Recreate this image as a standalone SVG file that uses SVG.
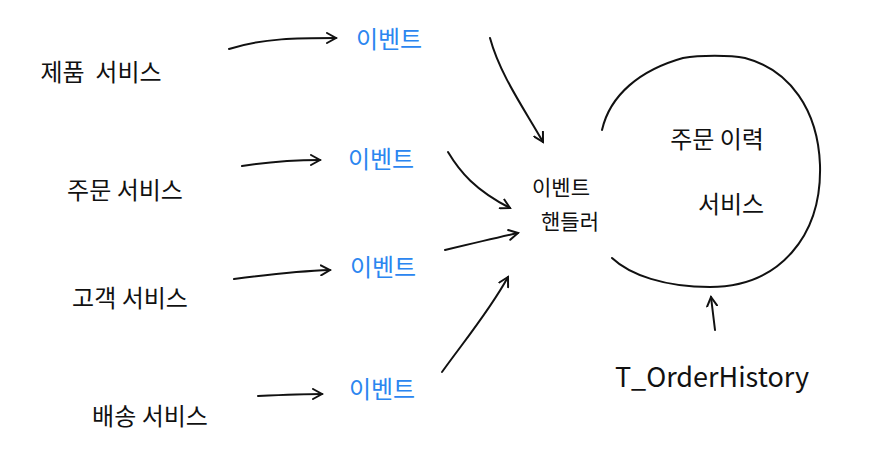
<svg xmlns="http://www.w3.org/2000/svg" width="881" height="467" viewBox="0 0 881 467">
<defs>
<style>
text{font-family:"Noto Sans CJK KR","Noto Sans",sans-serif;font-size:24px;fill:#111;text-anchor:middle;dominant-baseline:central}
.ev{fill:#2b86f0}
.sm{font-size:21px}
.c{fill:none;stroke:#111;stroke-width:2;stroke-linecap:round}
</style>
<marker id="ah" viewBox="0 0 12 12" refX="10" refY="6" markerWidth="12" markerHeight="12" markerUnits="userSpaceOnUse" orient="auto">
<path d="M1,1 L10,6 L1,11" fill="none" stroke="#111" stroke-width="2" stroke-linecap="round"/>
</marker>
</defs>
<rect width="881" height="467" fill="#fff"/>
<g id="connectors">
<path class="c" d="M229,49 C262,38 300,38 336,38" marker-end="url(#ah)"/>
<path class="c" d="M242,166 C268,162 295,160 320,160" marker-end="url(#ah)"/>
<path class="c" d="M234,279 C265,275 300,271 330,270" marker-end="url(#ah)"/>
<path class="c" d="M258,396 C280,395 302,394 322,394" marker-end="url(#ah)"/>
<path class="c" d="M490,38 C500,75 525,110 543,142" marker-end="url(#ah)"/>
<path class="c" d="M448,152 C460,172 475,190 510,208" marker-end="url(#ah)"/>
<path class="c" d="M445,250 C470,244 495,238 518,233" marker-end="url(#ah)"/>
<path class="c" d="M442,372 C465,340 490,310 508,277" marker-end="url(#ah)"/>
<path class="c" d="M715,330 L711,297" marker-end="url(#ah)"/>
</g>
<g id="n-product"><text x="101" y="70" xml:space="preserve">제품  서비스</text></g>
<g id="n-order"><text x="125" y="188">주문 서비스</text></g>
<g id="n-customer"><text x="130" y="296">고객 서비스</text></g>
<g id="n-delivery"><text x="150" y="414">배송 서비스</text></g>
<g id="e1"><text class="ev" x="389" y="37">이벤트</text></g>
<g id="e2"><text class="ev" x="381" y="157">이벤트</text></g>
<g id="e3"><text class="ev" x="383" y="265">이벤트</text></g>
<g id="e4"><text class="ev" x="382" y="387">이벤트</text></g>
<g id="handler"><text class="sm" x="561" y="186">이벤트</text><text class="sm" x="570" y="220">핸들러</text></g>
<g id="history">
<path class="c" d="M602,130 C610,95 640,70 683,58 C700,55 730,55 745,58 C790,70 818,110 820,165 C822,235 780,287 710,287 C665,287 630,275 612,258"/>
<text x="717" y="137">주문 이력</text>
<text x="731" y="202">서비스</text>
</g>
<g id="table"><text x="712" y="375" style="font-size:27px">T_OrderHistory</text></g>
</svg>
